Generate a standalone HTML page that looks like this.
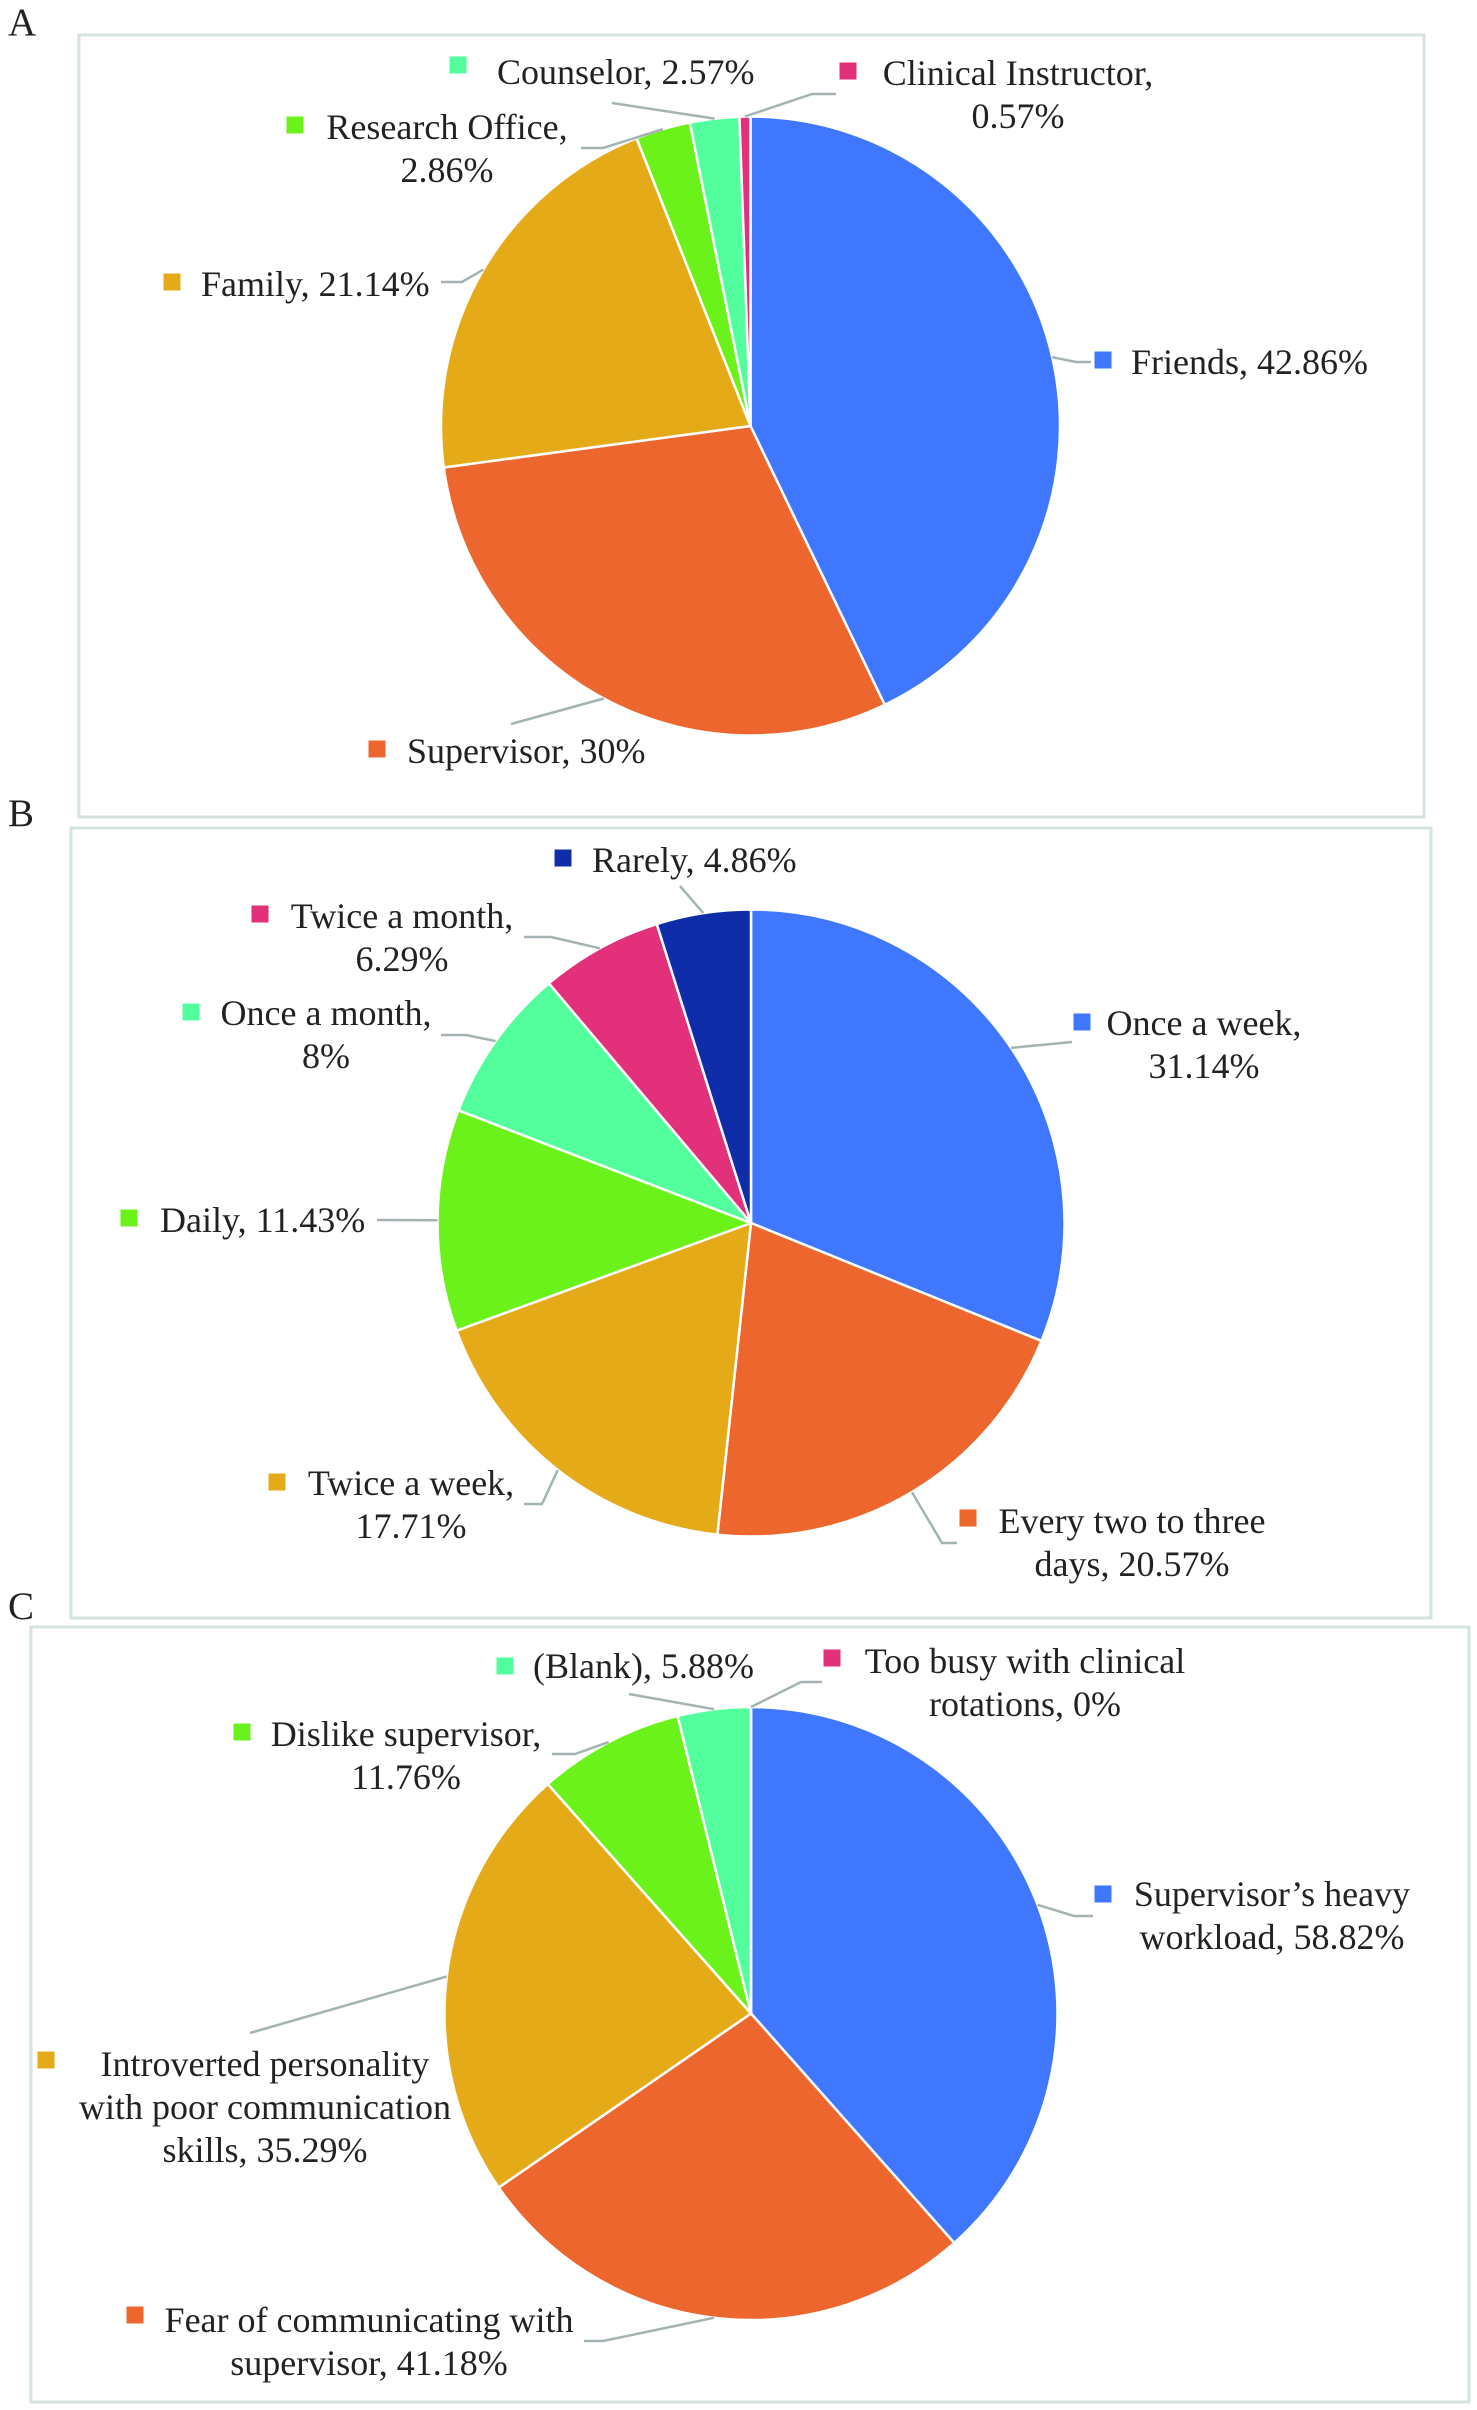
<!DOCTYPE html>
<html lang="en">
<head>
<meta charset="utf-8">
<title>Pie charts A, B and C</title>
<style>
html,body{margin:0;padding:0;background:#fff}
svg{display:block}
text{font-family:"Liberation Serif",serif;fill:#222;font-size:36px}
</style>
</head>
<body>
<svg id="figure" xmlns="http://www.w3.org/2000/svg" width="1477" height="2410" viewBox="0 0 1477 2410">
  <rect x="79" y="35" width="1345" height="782" fill="#fff" stroke="#d6e3e3" stroke-width="3"/>
  <rect x="71" y="828" width="1360" height="790" fill="#fff" stroke="#d6e3e3" stroke-width="3"/>
  <rect x="31" y="1627" width="1438" height="775" fill="#fff" stroke="#d6e3e3" stroke-width="3"/>
  <text x="8" y="35" style="font-size:39px">A</text>
  <text x="8" y="826" style="font-size:39px">B</text>
  <text x="8" y="1619" style="font-size:39px">C</text>
</svg>
<script>
// Chart A data
const categoriesA = ["Friends", "Supervisor", "Family", "Research Office", "Counselor", "Clinical Instructor"];
const valuesA = [42.86, 30, 21.14, 2.86, 2.57, 0.57];
// Chart B data
const categoriesB = ["Once a week", "Every two to three days", "Twice a week", "Daily", "Once a month", "Twice a month", "Rarely"];
const valuesB = [31.14, 20.57, 17.71, 11.43, 8, 6.29, 4.86];
// Chart C data
const categoriesC = ["Supervisor\u2019s heavy workload", "Fear of communicating with supervisor", "Introverted personality with poor communication skills", "Dislike supervisor", "(Blank)", "Too busy with clinical rotations"];
const valuesC = [58.82, 41.18, 35.29, 11.76, 5.88, 0];

const NS = "http://www.w3.org/2000/svg";
const figure = document.getElementById("figure");
const paletteA = ["#3f78ff", "#ec662d", "#e5aa18", "#6cf21b", "#52ff9c", "#e2307a"];
const paletteB = ["#3f78ff", "#ec662d", "#e5aa18", "#6cf21b", "#52ff9c", "#e2307a", "#0f2da8"];
const paletteC = ["#3f78ff", "#ec662d", "#e5aa18", "#6cf21b", "#52ff9c", "#e2307a"];

function slug(s) {
  return s.toLowerCase().replace(/[^a-z0-9]+/g, "-").replace(/^-|-$/g, "");
}
function svgEl(tag) {
  return document.createElementNS(NS, tag);
}
// Axis function: cumulative share -> angle (clockwise from 12 o'clock)
function angleAt(values, cumulative) {
  const total = values.reduce((a, b) => a + b, 0);
  return cumulative / total * 2 * Math.PI;
}
function polar(geom, angle) {
  return [geom.cx + geom.r * Math.sin(angle), geom.cy - geom.r * Math.cos(angle)];
}
function drawSlices(prefix, geom, categories, values, palette) {
  let cum = 0;
  values.forEach((v, i) => {
    const a0 = angleAt(values, cum);
    const a1 = angleAt(values, cum + v);
    cum += v;
    const p0 = polar(geom, a0);
    const p1 = polar(geom, a1);
    const large = a1 - a0 > Math.PI ? 1 : 0;
    const path = svgEl("path");
    path.setAttribute("d", "M" + geom.cx + " " + geom.cy + "L" + p0[0] + " " + p0[1] + "A" + geom.r + " " + geom.r + " 0 " + large + " 1 " + p1[0] + " " + p1[1] + "Z");
    path.setAttribute("fill", palette[i]);
    path.setAttribute("stroke", "#fff");
    path.setAttribute("stroke-width", "2.5");
    path.setAttribute("stroke-linejoin", "round");
    
    
    figure.appendChild(path);
  });
}
function midAngle(values, i) {
  let cum = 0;
  for (let k = 0; k < i; k++) cum += values[k];
  return angleAt(values, cum + values[i] / 2);
}
// spec: marker x/y, anchor, x, y (first baseline), breaks (words per line end), leader (fixed elbow points after the arc point)
function drawLabel(prefix, geom, categories, values, palette, i, spec) {
  const name = slug(categories[i]);
  const start = polar(geom, midAngle(values, i));
  const pts = [start].concat(spec.leader).map(p => p[0].toFixed(1) + "," + p[1].toFixed(1)).join(" ");
  const line = svgEl("polyline");
  line.setAttribute("points", pts);
  line.setAttribute("fill", "none");
  line.setAttribute("stroke", "#a3b3b3");
  line.setAttribute("stroke-width", "2.5");
  
  
  figure.appendChild(line);

  const marker = svgEl("rect");
  marker.setAttribute("x", spec.mx - 8.5);
  marker.setAttribute("y", spec.my - 8.5);
  marker.setAttribute("width", 17);
  marker.setAttribute("height", 17);
  marker.setAttribute("fill", palette[i]);
  
  
  figure.appendChild(marker);

  const words = (categories[i] + ", " + values[i] + "%").split(" ");
  const stops = (spec.breaks || []).concat([words.length]);
  const text = svgEl("text");
  text.setAttribute("text-anchor", spec.anchor || "start");
  
  
  let from = 0;
  stops.forEach((stop, k) => {
    const tspan = svgEl("tspan");
    tspan.setAttribute("x", spec.x);
    tspan.setAttribute("y", spec.y + k * 43);
    tspan.textContent = words.slice(from, stop).join(" ");
    text.appendChild(tspan);
    from = stop;
  });
  figure.appendChild(text);
}

const geomA = {cx: 750.5, cy: 426, r: 309.5};
const geomB = {cx: 751, cy: 1223, r: 313.5};
const geomC = {cx: 751, cy: 2013.5, r: 306.5};

drawSlices("chart-a", geomA, categoriesA, valuesA, paletteA);
drawSlices("chart-b", geomB, categoriesB, valuesB, paletteB);
drawSlices("chart-c", geomC, categoriesC, valuesC, paletteC);

function labelA(i, spec) { drawLabel("chart-a", geomA, categoriesA, valuesA, paletteA, i, spec); }
function labelB(i, spec) { drawLabel("chart-b", geomB, categoriesB, valuesB, paletteB, i, spec); }
function labelC(i, spec) { drawLabel("chart-c", geomC, categoriesC, valuesC, paletteC, i, spec); }

labelA(0, {mx: 1103, my: 360, x: 1131, y: 374, leader: [[1076, 362], [1091, 362]]});
labelA(1, {mx: 377, my: 749, x: 407, y: 763, leader: [[511, 724]]});
labelA(2, {mx: 172, my: 282, x: 201, y: 296, leader: [[462, 282], [441, 282]]});
labelA(3, {mx: 295, my: 125, x: 447, y: 139, anchor: "middle", breaks: [2], leader: [[603, 148], [581, 148]]});
labelA(4, {mx: 458, my: 65, x: 497, y: 84, leader: [[612, 103]]});
labelA(5, {mx: 848, my: 71, x: 1018, y: 85, anchor: "middle", breaks: [2], leader: [[812, 94], [836, 94]]});

labelB(0, {mx: 1082, my: 1022, x: 1204, y: 1035, anchor: "middle", breaks: [3], leader: [[1072, 1042]]});
labelB(1, {mx: 968, my: 1518, x: 1132, y: 1533, anchor: "middle", breaks: [4], leader: [[942, 1543], [957, 1543]]});
labelB(2, {mx: 277, my: 1482, x: 411, y: 1495, anchor: "middle", breaks: [3], leader: [[542, 1504], [524, 1504]]});
labelB(3, {mx: 129, my: 1218, x: 160, y: 1232, leader: [[377, 1220]]});
labelB(4, {mx: 191, my: 1012, x: 326, y: 1025, anchor: "middle", breaks: [3], leader: [[466, 1035], [441, 1035]]});
labelB(5, {mx: 260, my: 914, x: 402, y: 928, anchor: "middle", breaks: [3], leader: [[551, 937], [524, 937]]});
labelB(6, {mx: 563, my: 858, x: 592, y: 872, leader: [[680, 886]]});

labelC(0, {mx: 1103, my: 1894, x: 1272, y: 1906, anchor: "middle", breaks: [2], leader: [[1074, 1916], [1093, 1916]]});
labelC(1, {mx: 135, my: 2315, x: 369, y: 2332, anchor: "middle", breaks: [4], leader: [[603, 2341], [584, 2341]]});
labelC(2, {mx: 46, my: 2060, x: 265, y: 2076, anchor: "middle", breaks: [2, 5], leader: [[250, 2033]]});
labelC(3, {mx: 242, my: 1732, x: 406, y: 1746, anchor: "middle", breaks: [2], leader: [[575, 1754], [552, 1754]]});
labelC(4, {mx: 505, my: 1666, x: 533, y: 1678, leader: [[629, 1694]]});
labelC(5, {mx: 832, my: 1658, x: 1025, y: 1673, anchor: "middle", breaks: [4], leader: [[801, 1682], [822, 1682]]});
</script>
</body>
</html>
